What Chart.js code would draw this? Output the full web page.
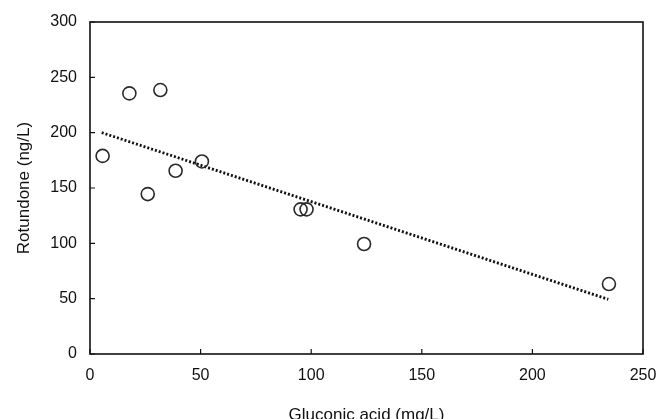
<!DOCTYPE html>
<html>
<head>
<meta charset="utf-8">
<script src="https://cdn.jsdelivr.net/npm/chart.js@4/dist/chart.umd.min.js"></script>
<style>
  html, body { margin: 0; padding: 0; background: #fff; }
  #wrap { width: 659px; height: 419px; position: relative; }
</style>
</head>
<body>
<div id="wrap"><canvas id="chart"></canvas></div>
<script>
const GLUCONIC  = [5.7, 17.8, 31.8, 26.1, 38.7, 50.6, 95.2, 97.9, 123.9, 234.6];
const ROTUNDONE = [179, 235.5, 238.5, 144.5, 165.6, 174, 130.7, 130.7, 99.4, 63.2];
const TREND_X   = [5.3, 234.3];
const TREND_Y   = [200, 49.4];

const INK = '#111';

Chart.defaults.font.family = "'Liberation Sans', Arial, sans-serif";
Chart.defaults.color = INK;

// box round the plot plus short inward tick marks
const frame = {
  id: 'frame',
  afterDatasetsDraw(chart) {
    const { ctx, chartArea: a, scales } = chart;
    ctx.save();
    ctx.strokeStyle = INK;
    ctx.lineWidth = 1.6;
    ctx.strokeRect(a.left, a.top, a.right - a.left, a.bottom - a.top);
    ctx.lineWidth = 1.2;
    ctx.beginPath();
    scales.x.ticks.forEach((t, i) => {
      const px = scales.x.getPixelForTick(i);
      ctx.moveTo(px, a.bottom);
      ctx.lineTo(px, a.bottom - 5);
    });
    scales.y.ticks.forEach((t, i) => {
      const py = scales.y.getPixelForTick(i);
      ctx.moveTo(a.left, py);
      ctx.lineTo(a.left + 5, py);
    });
    ctx.stroke();
    ctx.restore();
  }
};

new Chart(document.getElementById('chart'), {
  type: 'scatter',
  data: {
    datasets: [
      {
        label: 'Samples',
        data: GLUCONIC.map((x, i) => ({ x, y: ROTUNDONE[i] })),
        pointRadius: 6.5,
        pointBackgroundColor: 'rgba(0,0,0,0)',
        pointBorderColor: '#2a2a2a',
        pointBorderWidth: 1.6,
      },
      {
        label: 'Trend',
        data: TREND_X.map((x, i) => ({ x, y: TREND_Y[i] })),
        showLine: true,
        borderColor: INK,
        borderWidth: 2.8,
        borderDash: [2, 2],
        pointRadius: 0,
        fill: false,
      }
    ]
  },
  options: {
    responsive: true,
    maintainAspectRatio: false,
    animation: false,
    layout: { padding: { top: 22, right: 16, left: 0, bottom: 0 } },
    plugins: { legend: { display: false }, tooltip: { enabled: false } },
    scales: {
      x: {
        min: 0, max: 250,
        border: { display: false },
        grid: { display: false, drawTicks: false },
        ticks: { stepSize: 50, padding: 12, maxRotation: 0, font: { size: 16 } },
        title: { display: true, text: 'Gluconic acid (mg/L)', font: { size: 17 }, padding: { top: 0, bottom: -7 } },
        afterFit: s => { s.height = 65; s.paddingRight = 0; s.paddingLeft = 0; }
      },
      y: {
        min: 0, max: 300,
        border: { display: false },
        grid: { display: false, drawTicks: false },
        ticks: { stepSize: 50, padding: 13, font: { size: 16 } },
        title: { display: true, text: 'Rotundone (ng/L)', font: { size: 17 }, padding: { top: 14, bottom: 0 } },
        afterFit: s => { s.width = 90; s.paddingTop = 0; s.paddingBottom = 0; }
      }
    }
  },
  plugins: [frame]
});
</script>
</body>
</html>
